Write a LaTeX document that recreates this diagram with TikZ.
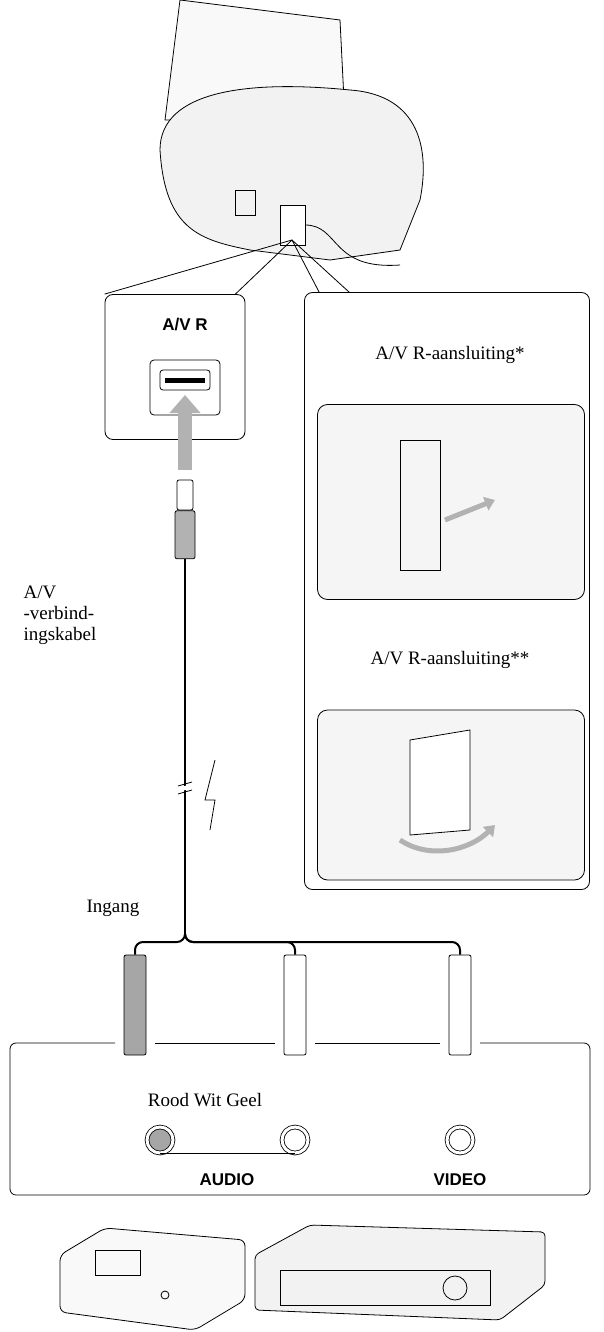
\documentclass[tikz,border=0pt]{standalone}
\usepackage{fontspec}
\setmainfont{Liberation Serif}
\setsansfont{Liberation Sans}
\usetikzlibrary{positioning,arrows.meta}
\tikzset{
  panel/.style={draw,thick,rounded corners=8pt},
  photo/.style={draw,thick,rounded corners=10pt,fill=gray!8},
  lbl/.style={font=\fontsize{19}{21}\selectfont},
  tag/.style={font=\sffamily\bfseries\fontsize{17}{19}\selectfont},
  plug/.style={draw,thick,rounded corners=2pt,minimum width=22pt,minimum height=100pt},
  jack/.style={draw,thick,circle,minimum size=26pt,double,double distance=3pt},
}
\begin{document}
\begin{tikzpicture}[x=1pt,y=-1pt]
\useasboundingbox (0,0) rectangle (604,1332);
%camcorder
\draw[thick,fill=gray!5] (165,120) -- (180,0) -- (340,20) -- (345,120) -- cycle;
\draw[thick,fill=gray!10] (160,150) .. controls (160,90) and (250,80) .. (350,90)
  .. controls (420,95) and (430,150) .. (420,200) -- (400,250) -- (330,260)
  -- (250,250) .. controls (200,240) and (165,230) .. (160,150);
\draw[thick] (235,190) rectangle (255,215);
\draw[thick,fill=white] (280,205) rectangle (305,245);
\coordinate (port) at (292,240);
\draw[thick] (305,225) .. controls (340,225) and (330,270) .. (400,265);
%A/V R socket
\node[panel,minimum width=140pt,minimum height=145pt] (avr) at (175,367) {};
\node[tag] (avrtag) at (185,325) {A/V R};
\draw[thick,rounded corners=4pt] (150,360) rectangle (220,415);
\draw[thick,rounded corners=3pt] (160,370) rectangle (210,390);
\draw[line width=5pt] (165,380) -- (205,380);
\draw[gray!60,line width=14pt,-{Triangle[length=18pt,width=30pt]}] (185,470) -- (185,395);
\draw[thick] (port) -- (avr.north west);
\draw[thick] (port) -- ([xshift=-10pt]avr.north east);
%detail panel
\node[panel,minimum width=285pt,minimum height=597pt] (det) at (447,591) {};
\draw[thick] (port) -- ([xshift=15pt]det.north west);
\draw[thick] (port) -- ([xshift=45pt]det.north west);
\node[lbl] (star1) at (450,355) {A/V R-aansluiting*};
\node[photo,minimum width=267pt,minimum height=195pt] (ph1) at (451,502) {};
\node[lbl] (star2) at (450,660) {A/V R-aansluiting**};
\node[photo,minimum width=267pt,minimum height=170pt] (ph2) at (451,795) {};
\draw[thick] (400,440) rectangle (440,570);
\draw[gray!60,line width=5pt,-{Triangle[length=10pt,width=14pt]}] (445,520) -- (495,500);
\draw[thick,fill=white] (410,740) -- (470,730) -- (470,830) -- (410,835) -- cycle;
\draw[gray!60,line width=5pt,-{Triangle[length=10pt,width=14pt]}] (400,840) .. controls (430,860) and (470,850) .. (495,825);
%cable
\node[plug,minimum width=16pt,minimum height=30pt] (tip) at (185,495) {};
\node[plug,fill=gray!60,minimum width=20pt,minimum height=48pt,below=0pt of tip] (body) {};
\coordinate (split) at (185,935);
\draw[line width=2pt] (body) -- (split);
\draw[white,line width=4pt] (178,790) -- (192,786);
\draw[thick] (178,794) -- (192,790) (178,786) -- (192,782);
\draw[thick] (215,760) -- (205,800) -- (215,800) -- (210,830);
\node[lbl,anchor=west,align=left] (kabel) at (20,615) {A/V\\-verbind-\\ingskabel};
\node[lbl] (ingang) at (113,908) {Ingang};
%RCA plugs
\node[plug,fill=gray!70] (red) at (135,1005) {};
\node[plug,fill=white] (white) at (295,1005) {};
\node[plug,fill=white] (yellow) at (460,1005) {};
\draw[line width=2pt,rounded corners=8pt] (split) -- (185,942) -| (red);
\draw[line width=2pt,rounded corners=8pt] (split) -- (185,942) -| (white);
\draw[line width=2pt,rounded corners=8pt] (split) -- (185,942) -| (yellow);
%input panel
\draw[thick,rounded corners=6pt] (115,1043) -| (10,1195) -| (590,1043) -- (480,1043);
\draw[thick] (155,1043) -- (275,1043) (315,1043) -- (440,1043);
\node[lbl] (colors) at (205,1100) {Rood Wit Geel};
\node[jack,fill=gray!70] (jr) at (160,1140) {};
\node[jack] (jw) at (295,1140) {};
\node[jack] (jy) at (460,1140) {};
\draw[thick] (jr.south) |- (jw.south);
\node[tag] (audio) at (227,1180) {AUDIO};
\node[tag] (video) at (460,1180) {VIDEO};
%devices
\draw[thick,fill=gray!5,rounded corners=6pt] (60,1255) -- (105,1228) -- (245,1240) -- (245,1300) -- (195,1330) -- (60,1312) -- cycle;
\draw[thick] (95,1250) rectangle (140,1275);
\draw[thick] (165,1295) circle (4pt);
\draw[thick,fill=gray!10,rounded corners=4pt] (255,1255) -- (310,1225) -- (545,1232) -- (545,1285) -- (500,1320) -- (255,1310) -- cycle;
\draw[thick] (280,1270) rectangle (490,1305);
\draw[thick] (455,1288) circle (12pt);
\end{tikzpicture}
\end{document}
